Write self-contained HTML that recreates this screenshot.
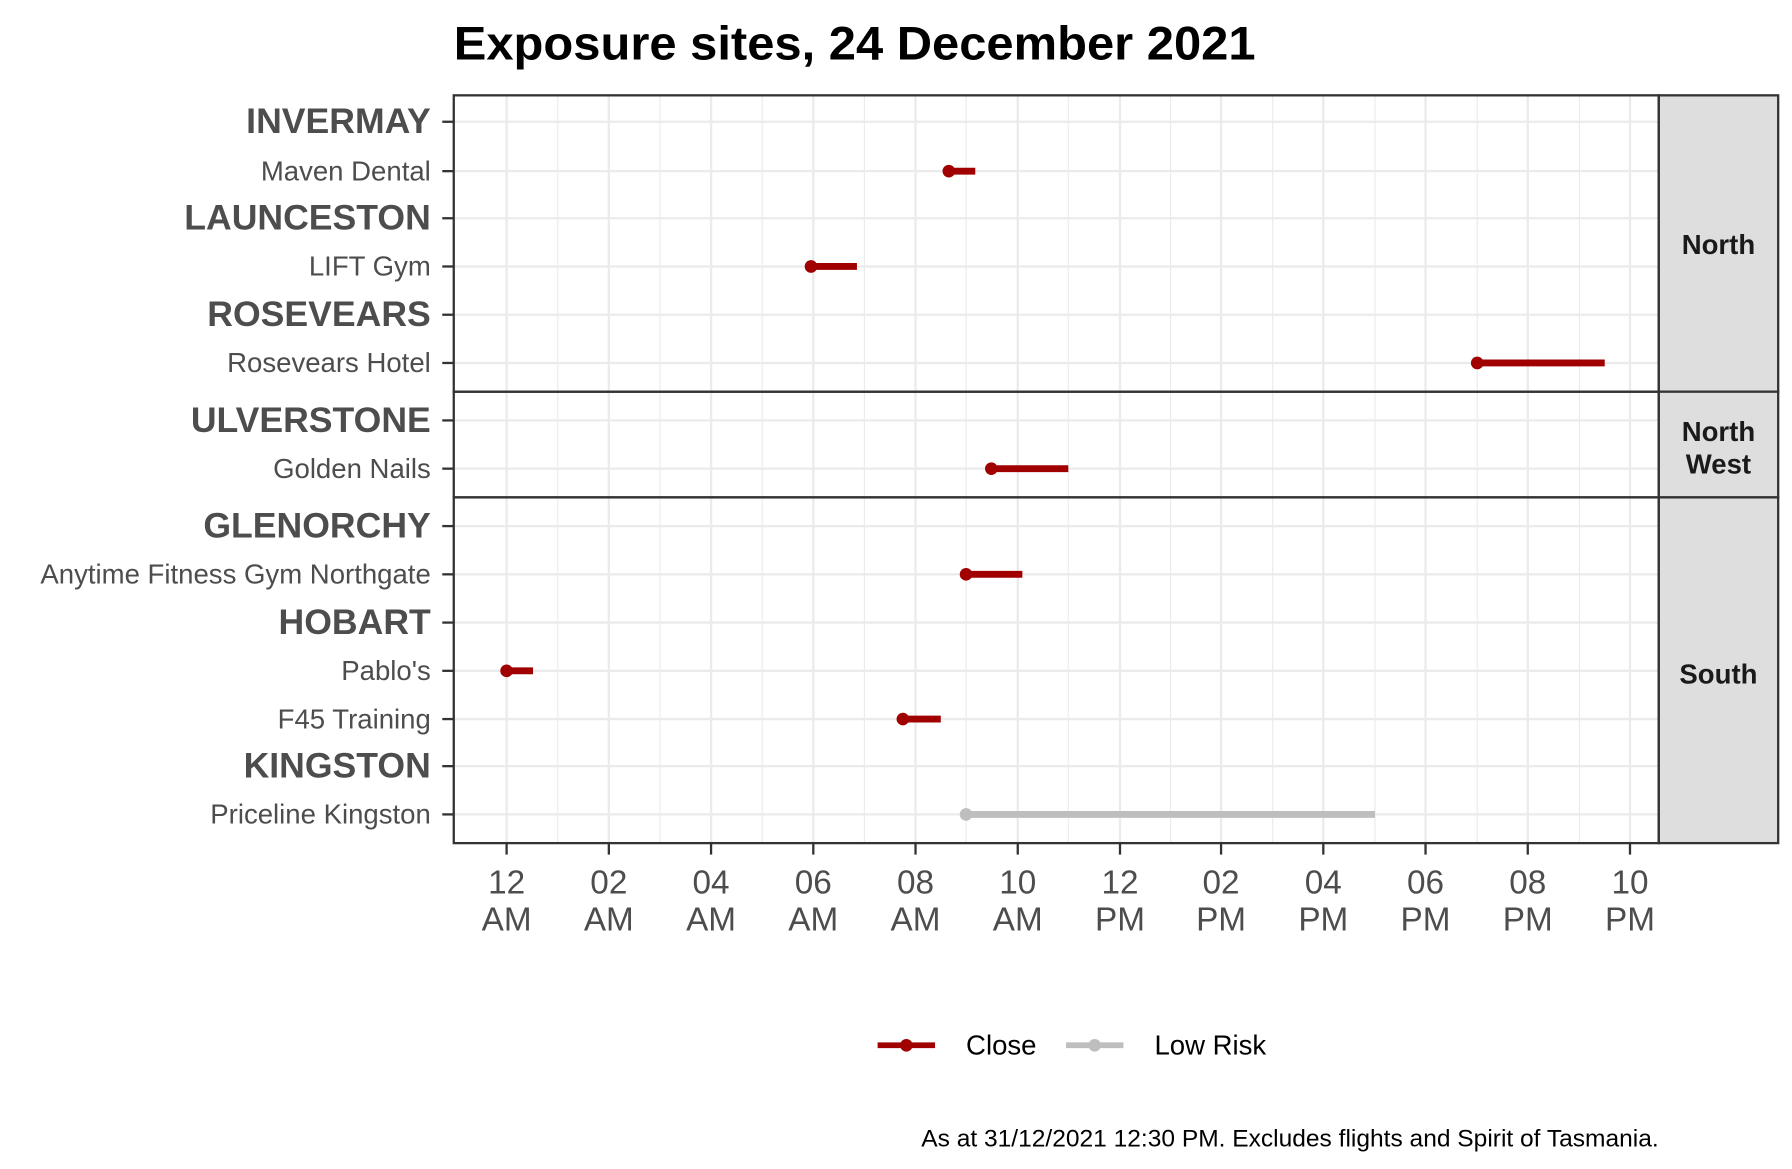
<!DOCTYPE html>
<html><head><meta charset="utf-8"><style>html,body{margin:0;padding:0;background:#fff}svg{display:block}</style></head>
<body>
<svg width="1792" height="1169" viewBox="0 0 1560 1017.7" xmlns="http://www.w3.org/2000/svg" font-family="'Liberation Sans', sans-serif">
<rect width="1560" height="1018" fill="#fff"/>
<text x="395" y="52" font-size="41" font-weight="bold" fill="#000" textLength="698" lengthAdjust="spacingAndGlyphs">Exposure sites, 24 December 2021</text>
<g stroke="#ebebeb" stroke-width="1">
<line x1="485.5" y1="83" x2="485.5" y2="734"/><line x1="574.5" y1="83" x2="574.5" y2="734"/><line x1="663.5" y1="83" x2="663.5" y2="734"/><line x1="752.5" y1="83" x2="752.5" y2="734"/><line x1="841" y1="83" x2="841" y2="734"/><line x1="930" y1="83" x2="930" y2="734"/><line x1="1019" y1="83" x2="1019" y2="734"/><line x1="1108" y1="83" x2="1108" y2="734"/><line x1="1197" y1="83" x2="1197" y2="734"/><line x1="1286" y1="83" x2="1286" y2="734"/><line x1="1375" y1="83" x2="1375" y2="734"/>
</g>
<g stroke="#ebebeb" stroke-width="2">
<line x1="441" y1="83" x2="441" y2="734"/><line x1="530" y1="83" x2="530" y2="734"/><line x1="619" y1="83" x2="619" y2="734"/><line x1="708" y1="83" x2="708" y2="734"/><line x1="797" y1="83" x2="797" y2="734"/><line x1="886" y1="83" x2="886" y2="734"/><line x1="975" y1="83" x2="975" y2="734"/><line x1="1063" y1="83" x2="1063" y2="734"/><line x1="1152" y1="83" x2="1152" y2="734"/><line x1="1241" y1="83" x2="1241" y2="734"/><line x1="1330" y1="83" x2="1330" y2="734"/><line x1="1419" y1="83" x2="1419" y2="734"/>
<line x1="395" y1="106" x2="1444" y2="106"/><line x1="395" y1="149" x2="1444" y2="149"/><line x1="395" y1="190" x2="1444" y2="190"/><line x1="395" y1="232" x2="1444" y2="232"/><line x1="395" y1="274" x2="1444" y2="274"/><line x1="395" y1="316" x2="1444" y2="316"/>
<line x1="395" y1="366" x2="1444" y2="366"/><line x1="395" y1="408" x2="1444" y2="408"/>
<line x1="395" y1="458" x2="1444" y2="458"/><line x1="395" y1="500" x2="1444" y2="500"/><line x1="395" y1="542" x2="1444" y2="542"/><line x1="395" y1="584" x2="1444" y2="584"/><line x1="395" y1="626" x2="1444" y2="626"/><line x1="395" y1="667" x2="1444" y2="667"/><line x1="395" y1="709" x2="1444" y2="709"/>
</g>
<g stroke-width="6" stroke="#a00000">
<line x1="826" y1="149" x2="849" y2="149"/><line x1="706" y1="232" x2="746" y2="232"/><line x1="1286" y1="316" x2="1397" y2="316"/><line x1="863" y1="408" x2="930" y2="408"/><line x1="841" y1="500" x2="890" y2="500"/><line x1="441" y1="584" x2="464" y2="584"/><line x1="786" y1="626" x2="819" y2="626"/>
<line x1="841" y1="709" x2="1197" y2="709" stroke="#bebebe"/>
</g>
<g fill="#a00000">
<circle cx="826" cy="149" r="5.5"/><circle cx="706" cy="232" r="5.5"/><circle cx="1286" cy="316" r="5.5"/><circle cx="863" cy="408" r="5.5"/><circle cx="841" cy="500" r="5.5"/><circle cx="441" cy="584" r="5.5"/><circle cx="786" cy="626" r="5.5"/><circle cx="841" cy="709" r="5.5" fill="#bebebe"/>
</g>
<g fill="#dedede" stroke="#333" stroke-width="2">
<rect x="1444" y="83" width="104" height="258"/><rect x="1444" y="341" width="104" height="92"/><rect x="1444" y="433" width="104" height="301"/>
</g>
<g fill="none" stroke="#333" stroke-width="2">
<rect x="395" y="83" width="1049" height="258"/><rect x="395" y="341" width="1049" height="92"/><rect x="395" y="433" width="1049" height="301"/>
</g>
<g font-size="24" font-weight="bold" fill="#1a1a1a" text-anchor="middle">
<text x="1496" y="221">North</text><text x="1496" y="384">North</text><text x="1496" y="412">West</text><text x="1496" y="595">South</text>
</g>
<g stroke="#333" stroke-width="2">
<line x1="385" y1="106" x2="395" y2="106"/><line x1="385" y1="149" x2="395" y2="149"/><line x1="385" y1="190" x2="395" y2="190"/><line x1="385" y1="232" x2="395" y2="232"/><line x1="385" y1="274" x2="395" y2="274"/><line x1="385" y1="316" x2="395" y2="316"/><line x1="385" y1="366" x2="395" y2="366"/><line x1="385" y1="408" x2="395" y2="408"/><line x1="385" y1="458" x2="395" y2="458"/><line x1="385" y1="500" x2="395" y2="500"/><line x1="385" y1="542" x2="395" y2="542"/><line x1="385" y1="584" x2="395" y2="584"/><line x1="385" y1="626" x2="395" y2="626"/><line x1="385" y1="667" x2="395" y2="667"/><line x1="385" y1="709" x2="395" y2="709"/>
<line x1="441" y1="734" x2="441" y2="744"/><line x1="530" y1="734" x2="530" y2="744"/><line x1="619" y1="734" x2="619" y2="744"/><line x1="708" y1="734" x2="708" y2="744"/><line x1="797" y1="734" x2="797" y2="744"/><line x1="886" y1="734" x2="886" y2="744"/><line x1="975" y1="734" x2="975" y2="744"/><line x1="1063" y1="734" x2="1063" y2="744"/><line x1="1152" y1="734" x2="1152" y2="744"/><line x1="1241" y1="734" x2="1241" y2="744"/><line x1="1330" y1="734" x2="1330" y2="744"/><line x1="1419" y1="734" x2="1419" y2="744"/>
</g>
<g fill="#4d4d4d" text-anchor="end">
<g font-size="31" font-weight="bold">
<text x="375" y="116">INVERMAY</text><text x="375" y="200">LAUNCESTON</text><text x="375" y="284">ROSEVEARS</text><text x="375" y="376">ULVERSTONE</text><text x="375" y="468">GLENORCHY</text><text x="375" y="552">HOBART</text><text x="375" y="677">KINGSTON</text>
</g>
<g font-size="24">
<text x="375" y="157">Maven Dental</text><text x="375" y="240">LIFT Gym</text><text x="375" y="324">Rosevears Hotel</text><text x="375" y="416">Golden Nails</text><text x="375" y="508">Anytime Fitness Gym Northgate</text><text x="375" y="592">Pablo's</text><text x="375" y="634">F45 Training</text><text x="375" y="717">Priceline Kingston</text>
</g>
</g>
<g fill="#4d4d4d" font-size="29" text-anchor="middle">
<text x="441" y="778">12</text><text x="441" y="810">AM</text>
<text x="530" y="778">02</text><text x="530" y="810">AM</text>
<text x="619" y="778">04</text><text x="619" y="810">AM</text>
<text x="708" y="778">06</text><text x="708" y="810">AM</text>
<text x="797" y="778">08</text><text x="797" y="810">AM</text>
<text x="886" y="778">10</text><text x="886" y="810">AM</text>
<text x="975" y="778">12</text><text x="975" y="810">PM</text>
<text x="1063" y="778">02</text><text x="1063" y="810">PM</text>
<text x="1152" y="778">04</text><text x="1152" y="810">PM</text>
<text x="1241" y="778">06</text><text x="1241" y="810">PM</text>
<text x="1330" y="778">08</text><text x="1330" y="810">PM</text>
<text x="1419" y="778">10</text><text x="1419" y="810">PM</text>
</g>
<line x1="764" y1="910" x2="814" y2="910" stroke="#a00000" stroke-width="5"/><circle cx="789" cy="910" r="5.5" fill="#a00000"/>
<line x1="928" y1="910" x2="978" y2="910" stroke="#bebebe" stroke-width="5"/><circle cx="953" cy="910" r="5.5" fill="#bebebe"/>
<g font-size="24" fill="#000"><text x="841" y="918">Close</text><text x="1005" y="918">Low Risk</text></g>
<text x="1444" y="998" font-size="21" fill="#000" text-anchor="end" textLength="642" lengthAdjust="spacingAndGlyphs">As at 31/12/2021 12:30 PM. Excludes flights and Spirit of Tasmania.</text>
</svg>
</body></html>
